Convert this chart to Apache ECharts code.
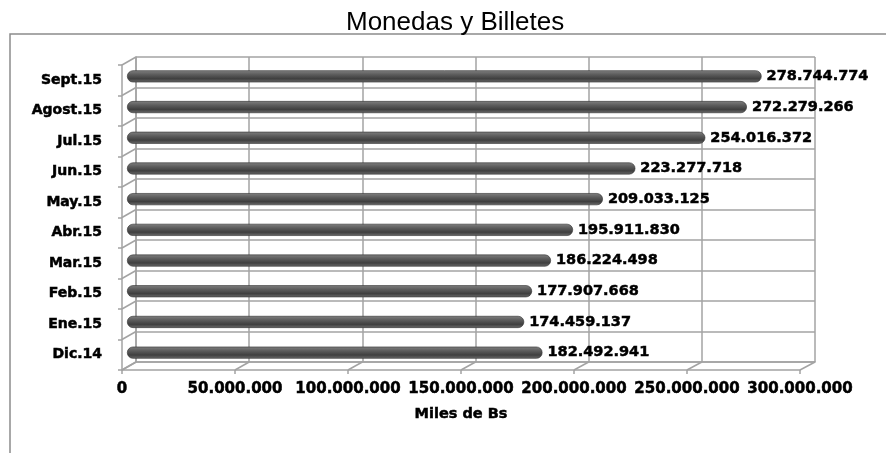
<!DOCTYPE html>
<html>
<head>
<meta charset="utf-8">
<script src="https://cdn.jsdelivr.net/npm/echarts@6/dist/echarts.min.js"></script>
<style>
html, body { margin: 0; padding: 0; background: #fff; }
#chart { width: 886px; height: 453px; }
</style>
</head>
<body>
<div id="chart"></div>
<script>
// datos
var categories = ['Dic.14', 'Ene.15', 'Feb.15', 'Mar.15', 'Abr.15', 'May.15', 'Jun.15', 'Jul.15', 'Agost.15', 'Sept.15']
var values = [182492941, 174459137, 177907668, 186224498, 195911830, 209033125, 223277718, 254016372, 272279266, 278744774]
var axisMax = 300000000
var axisStep = 50000000

function fmt(v) {
    return String(v).replace(/\B(?=(\d{3})+(?!\d))/g, '.')
}

// layout of the fake 3D box: bars, back wall, front axes
var W = 886, H = 453
var barGrid = { left: 127, right: 76, top: 61, bottom: 85 }
var backGrid = { left: 136, right: 71, top: 57, bottom: 91 }
var frontGrid = { left: 122, right: 86, top: 65, bottom: 83 }
var lineColor = '#a3a3a3'
var boldFont = 'DejaVu Sans'
var heavy = { color: '#000', fontFamily: boldFont, fontWeight: 'bold', textBorderColor: '#000', textBorderWidth: 0.5 }

var myChart = echarts.init(document.getElementById('chart'))

var option = {
    animation: false,
    backgroundColor: '#fff',
    title: {
        text: 'Monedas y Billetes',
        left: 341,
        top: 5,
        textStyle: { fontFamily: 'Liberation Sans', fontSize: 26, fontWeight: 'normal', color: '#000' }
    },
    grid: [
        Object.assign({}, barGrid),
        Object.assign({}, backGrid),
        Object.assign({}, frontGrid)
    ],
    xAxis: [
        { gridIndex: 0, type: 'value', min: 0, max: axisMax, show: false },
        {
            gridIndex: 1, type: 'value', min: 0, max: axisMax, interval: axisStep,
            axisLine: { show: true, lineStyle: { color: lineColor, width: 1.5 } },
            axisTick: { show: false }, axisLabel: { show: false },
            splitLine: { show: true, lineStyle: { color: lineColor, width: 1.5 } }
        },
        {
            gridIndex: 2, type: 'value', min: 0, max: axisMax, interval: axisStep,
            axisLine: { show: true, lineStyle: { color: lineColor, width: 1.5 } },
            axisTick: { show: true, length: 4, lineStyle: { color: lineColor, width: 1.5 } },
            splitLine: { show: false },
            axisLabel: Object.assign({
                margin: 12, fontSize: 15,
                formatter: function (v) { return fmt(v) }
            }, heavy),
            name: 'Miles de Bs',
            nameLocation: 'middle',
            nameGap: 37,
            nameTextStyle: Object.assign({ fontSize: 14.5 }, heavy)
        }
    ],
    yAxis: [
        { gridIndex: 0, type: 'category', data: categories, show: false },
        {
            gridIndex: 1, type: 'category', data: categories,
            axisLine: { show: true, lineStyle: { color: lineColor, width: 1.5 } },
            axisTick: { show: false }, axisLabel: { show: false },
            splitLine: { show: true, lineStyle: { color: lineColor, width: 1.5 } }
        },
        {
            gridIndex: 2, type: 'category', data: categories,
            axisLine: { show: true, lineStyle: { color: lineColor, width: 1.5 } },
            axisTick: { show: true, length: 4, lineStyle: { color: lineColor, width: 1.5 } },
            axisLabel: Object.assign({ margin: 20, fontSize: 14 }, heavy)
        }
    ],
    series: [{
        type: 'bar',
        xAxisIndex: 0,
        yAxisIndex: 0,
        data: values,
        barWidth: 12,
        itemStyle: {
            color: new echarts.graphic.LinearGradient(0, 0, 0, 1, [
                { offset: 0, color: '#808080' },
                { offset: 0.35, color: '#5c5c5c' },
                { offset: 0.7, color: '#3f3f3f' },
                { offset: 1, color: '#6c6c6c' }
            ]),
            borderRadius: 6,
            borderColor: '#2e2e2e',
            borderWidth: 0.6
        },
        label: Object.assign({
            show: true,
            position: 'right',
            distance: 5,
            fontSize: 14.5,
            formatter: function (p) { return fmt(p.value) }
        }, heavy)
    }]
}

myChart.setOption(option)

// diagonal lines of the floor and the left wall, from the axes' own scales
var deco = []
var floorFront = H - frontGrid.bottom
var floorBack = H - backGrid.bottom
for (var v = 0; v <= axisMax; v += axisStep) {
    var xf = myChart.convertToPixel({ xAxisIndex: 2 }, v)
    var xb = myChart.convertToPixel({ xAxisIndex: 1 }, v)
    deco.push({ type: 'line', shape: { x1: xf, y1: floorFront, x2: xb, y2: floorBack }, style: { stroke: lineColor, lineWidth: 1.5 }, silent: true })
}
var bandF = (H - frontGrid.top - frontGrid.bottom) / categories.length
var bandB = (H - backGrid.top - backGrid.bottom) / categories.length
for (var k = 0; k <= categories.length; k++) {
    deco.push({
        type: 'line',
        shape: { x1: frontGrid.left, y1: frontGrid.top + k * bandF, x2: backGrid.left, y2: backGrid.top + k * bandB },
        style: { stroke: lineColor, lineWidth: 1.5 }, silent: true
    })
}
// outer frame
deco.push({
    type: 'rect', shape: { x: 10, y: 34, width: 900, height: 450 },
    style: { fill: 'none', stroke: '#8c8c8c', lineWidth: 1.5 }, silent: true, z: -1
})
myChart.setOption({ graphic: deco })
</script>
</body>
</html>
